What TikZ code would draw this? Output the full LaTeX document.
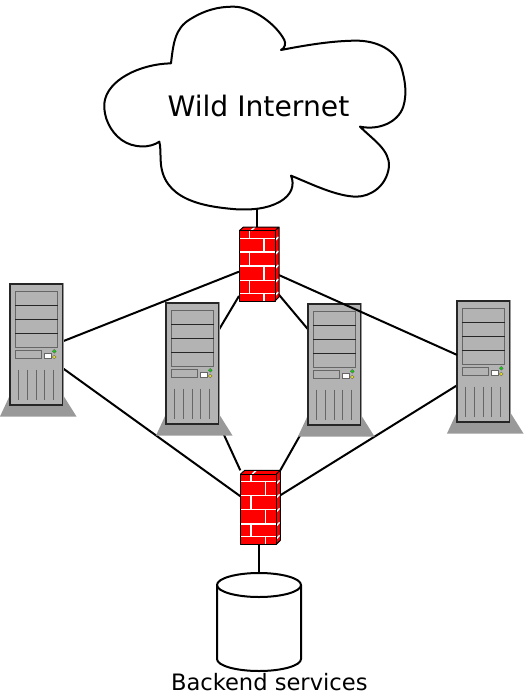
\documentclass[tikz,border=0pt]{standalone}
\usepackage{fontspec}
\setmainfont{DejaVu Sans}
\definecolor{towergray}{HTML}{B3B3B3}
\definecolor{basegray}{HTML}{999999}
\definecolor{baygray}{HTML}{666666}
\tikzset{
  anchorbox/.style={inner sep=0pt,outer sep=0pt,shape=rectangle},
  wire/.style={draw=black,line width=2pt},
  cloudline/.style={draw=black,line width=2pt,fill=white,line join=round},
  brick/.style={draw=white,line width=1.5pt},
  caption/.style={inner sep=0pt,outer sep=0pt,anchor=base west,text=black},
  dbline/.style={draw=black,line width=2pt},
}
\newcommand{\towerat}[2]{%
\begin{scope}[shift={(#1,#2)}]
  \fill[basegray] (-10,132.5) -- (66.5,132.5) -- (53,111) -- (0,111) -- cycle;
  \fill[towergray!85!black] (-1,-1.2) rectangle (53.5,121);
  \draw[fill=towergray,draw=black!85,line width=1.3pt] (0,0) rectangle (52.5,121);
  \draw[baygray,line width=1.2pt] (5.3,7.7) rectangle (47.7,63.7);
  \foreach \yy in {21.7,35.7,49.7} \draw[black!85,line width=1pt] (5.3,\yy) -- (47.7,\yy);
  \draw[baygray,line width=1.2pt] (5.3,66.3) rectangle (31.7,74.3);
  \fill[white] (34.3,69.3) rectangle (40.7,74.3);
  \draw[baygray,line width=.4pt] (34.3,69.3) rectangle (40.7,74.3);
  \draw[fill=green!85!black,draw=black!60,line width=.4pt] (44.3,67.3) circle (1.9);
  \draw[fill=yellow!90!black,draw=black!60,line width=.4pt] (44.3,73) circle (1.9);
  \foreach \xx in {8.7,17.3,26.3,34.7,43.7} \draw[baygray,line width=1.1pt] (\xx,85.5) -- (\xx,115.5);
\end{scope}}
\newcommand{\wallat}[2]{%
\begin{scope}[shift={(#1,#2)}]
  \fill[red] (.3,3.7) -- (4.5,0) -- (40,0) -- (40,70) -- (36,74) -- (.3,74) -- cycle;
  \foreach \yy in {11.3,25,39,53.5,66.3} \draw[brick] (.3,\yy) -- (36,\yy);
  \foreach \yy/\zz in {3.7/11.3,25/39,53.5/66.3} \draw[brick] (10.7,\yy) -- (10.7,\zz);
  \foreach \yy/\zz in {11.3/25,39/53.5,66.3/74} \draw[brick] (25,\yy) -- (25,\zz);
  \draw[brick] (12,3.7) -- (16,0);
  \foreach \yy in {11,25,39,53,66} \draw[brick] (36.5,\yy+2) -- (39.5,\yy-1);
  \draw[black,line width=1pt,line join=round] (.3,3.7) rectangle (36,74);
  \draw[black,line width=1pt,line join=round] (.3,3.7) -- (4.5,0) -- (40,0) -- (40,70) -- (36,74) (36,3.7) -- (40,0);
\end{scope}}
\begin{document}
\begin{tikzpicture}[x=1pt,y=-1pt]
\useasboundingbox (0,0) rectangle (523,696);
% anchor nodes
\node[anchorbox,minimum width=53pt,minimum height=121pt] (s1) at (36.5,344.5) {};
\node[anchorbox,minimum width=53pt,minimum height=121pt] (s2) at (192.5,363.5) {};
\node[anchorbox,minimum width=53pt,minimum height=121pt] (s3) at (334.5,364.5) {};
\node[anchorbox,minimum width=53pt,minimum height=121pt] (s4) at (483.5,361.5) {};
\node[anchorbox,minimum width=40pt,minimum height=74pt] (f1) at (259,264) {};
\node[anchorbox,minimum width=40pt,minimum height=74pt] (f2) at (260.3,507.3) {};
\node[anchorbox,minimum width=84pt,minimum height=98pt] (db) at (259,622) {};
\coordinate (cloudfoot) at (257,209);
% connectors
\draw[wire] (cloudfoot) -- (f1.north -| cloudfoot);
\draw[wire] (s1.7.5) -- (f1.201.8);
\draw[wire] (s1.-42.8) -- (f2.151.2);
\draw[wire] (s2.52.5) -- (f1.238.5);
\draw[wire] (s2.south east) -- (f2.north west);
\draw[wire] (s3.127.5) -- (f1.-57.2);
\draw[wire] (s3.-115.9) -- (f2.north east);
\draw[wire] (s4.-138.4) -- (f2.31);
\draw[wire] (f2.south -| db.north) -- (db.north);
% cloud
\begin{scope}[shift={(90,0)},x=.3333pt,y=-.3333pt]
\draw[cloudline] (243,190)
  .. controls (250,130) and (255,85) .. (300,58)
  .. controls (345,30) and (385,20) .. (430,20)
  .. controls (490,20) and (560,75) .. (583,120)
  .. controls (588,130) and (585,145) .. (573,150)
  .. controls (650,135) and (730,122) .. (800,122)
  .. controls (860,122) and (920,150) .. (935,205)
  .. controls (945,240) and (952,280) .. (940,320)
  .. controls (925,365) and (870,392) .. (810,380)
  .. controls (850,420) and (900,450) .. (897,500)
  .. controls (890,560) and (840,590) .. (800,590)
  .. controls (740,590) and (660,550) .. (603,527)
  .. controls (615,555) and (605,585) .. (570,605)
  .. controls (530,628) and (480,630) .. (440,628)
  .. controls (340,620) and (215,600) .. (212,480)
  .. controls (211,460) and (212,440) .. (208,425)
  .. controls (180,445) and (130,445) .. (95,420)
  .. controls (60,395) and (40,350) .. (43,310)
  .. controls (50,240) and (150,192) .. (243,190) -- cycle;
\end{scope}
\node[caption,font=\fontsize{28.2}{32}\selectfont] (wild) at (167.5,116.7) {Wild Internet};
% devices
\towerat{10}{284}
\towerat{166}{303}
\towerat{308}{304}
\towerat{457}{301}
\draw[wire] (s4.166.2) -- (f1.-29);
\wallat{239}{227}
\wallat{240.3}{470.3}
% database
\draw[dbline,fill=white] (217,585) .. controls (217,578.4) and (235.8,573) .. (259,573)
  .. controls (282.2,573) and (301,578.4) .. (301,585) -- (301,659)
  .. controls (301,665.6) and (282.2,671) .. (259,671)
  .. controls (235.8,671) and (217,665.6) .. (217,659) -- cycle;
\draw[dbline] (217,585) .. controls (217,591.6) and (235.8,597) .. (259,597)
  .. controls (282.2,597) and (301,591.6) .. (301,585);
\node[caption,font=\fontsize{22.6}{26}\selectfont] (back) at (171,690) {Backend services};
\end{tikzpicture}
\end{document}
